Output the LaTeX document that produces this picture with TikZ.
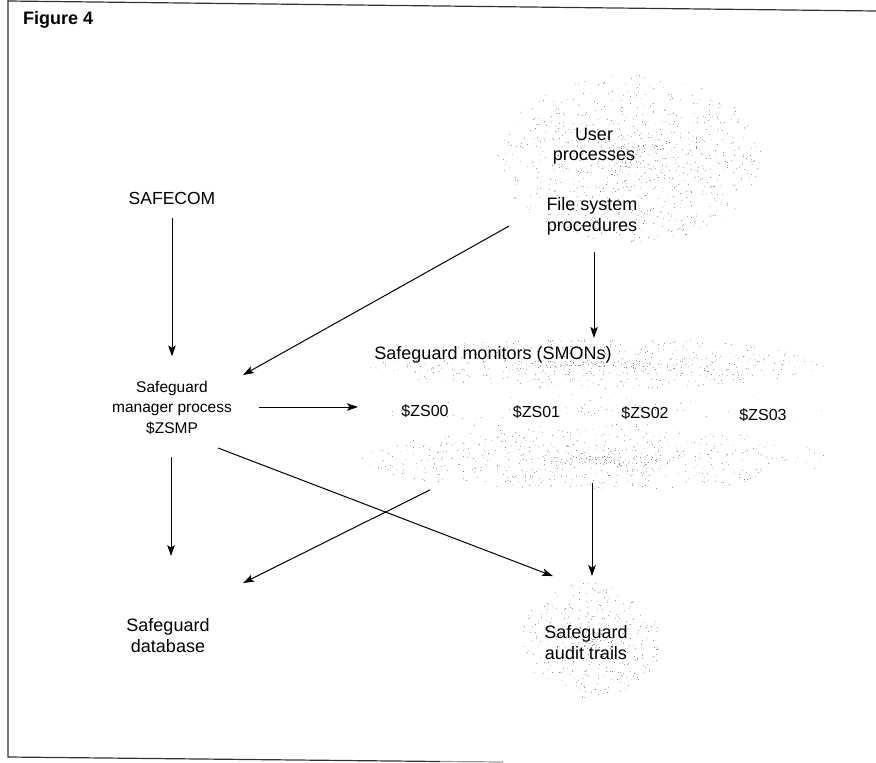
\documentclass[tikz,border=0pt]{standalone}
\usepackage{fontspec}
\setmainfont{Liberation Sans}
\usetikzlibrary{arrows.meta,calc}
\newcommand{\dotcloud}[6]{%
  \foreach \i in {1,...,#5}{%
    \pgfmathsetmacro{\dotr}{rnd^#6}%
    \pgfmathsetmacro{\dota}{360*rnd}%
    \pgfmathsetmacro{\dsh}{int(12+38*rnd)}%
    \fill[black!\dsh] ({#1+#3*\dotr*cos(\dota)},{#2+#4*\dotr*sin(\dota)}) rectangle ++(1,1);
  }}
\begin{document}
\begin{tikzpicture}[x=1pt,y=-1pt,
  lbl/.style={inner sep=0pt, align=center, font=\fontsize{18}{20.5}\selectfont},
  smalllbl/.style={inner sep=0pt, align=center, font=\fontsize{15.5}{20.5}\selectfont},
  zslbl/.style={inner sep=0pt, font=\fontsize{16}{20.5}\selectfont},
  arr/.style={-{Stealth[length=11pt,width=7.5pt,inset=2.5pt]}, line width=1pt},
  frame/.style={line width=1.2pt, black!80}]
\useasboundingbox (0,0) rectangle (876,763);
\pgfmathsetseed{4242}
% stippled clouds
\dotcloud{630}{158}{132}{84}{950}{0.75}
\dotcloud{594}{363}{232}{25}{620}{0.8}
\dotcloud{594}{410}{232}{22}{70}{0.9}
\dotcloud{594}{459}{232}{31}{650}{0.8}
\dotcloud{590}{640}{70}{58}{420}{0.8}
% frame
\draw[frame] (8,0) -- (8,757) -- (440,761.5);
\draw[line width=1.2pt, black!40] (440,761.5) -- (503,762);
\draw[frame] (8,1) -- (876,11);
% labels
\node[anchor=base west, inner sep=0pt, font=\fontsize{18}{20.5}\selectfont\bfseries] (fig) at (23,24) {Figure 4};
\node[lbl, font=\fontsize{17.5}{20.5}\selectfont] (safecom) at (172,199.9) {\strut SAFECOM};
\node[smalllbl] (mgr) at (172,408.4) {\strut Safeguard\\\strut manager process\\\strut \$ZSMP};
\node[lbl] (user) at (594,146.2) {\strut User\\\strut processes};
\node[lbl] (fsp) at (592,217.1) {\strut File system\\\strut procedures};
\node[lbl] (smon) at (493,354.9) {\strut Safeguard monitors (SMONs)};
\node[zslbl] (zs0) at (425,411.9) {\strut \$ZS00};
\node[zslbl] (zs1) at (536.5,412.9) {\strut \$ZS01};
\node[zslbl] (zs2) at (645,413.9) {\strut \$ZS02};
\node[zslbl] (zs3) at (763,415.9) {\strut \$ZS03};
\node[lbl] (db) at (168,638.1) {\strut Safeguard\\\strut database};
\node[lbl] (audit) at (586,645.1) {\strut Safeguard\\\strut audit trails};
% connectors
\draw[arr] ([shift={(0,18)}]safecom.center) -- ([shift={(0,-52)}]mgr.center);
\draw[arr] ([shift={(-83,9)}]fsp.center) -- ([shift={(71,-33.4)}]mgr.center);
\draw[arr] ([shift={(87,-1.4)}]mgr.center) -- ([shift={(-67,-4.9)}]zs0.center);
\draw[arr] ([shift={(-1,48.6)}]mgr.center) -- ([shift={(3,-82)}]db.center);
\draw[arr] ([shift={(46,39.6)}]mgr.center) -- ([shift={(-33,-69)}]audit.center);
\draw[arr] ([shift={(2,35)}]fsp.center) -- ([shift={(101,-17)}]smon.center);
\draw[arr] ([shift={(5,78)}]zs0.center) -- ([shift={(75,-55)}]db.center);
\draw[arr] ([shift={(55.5,70)}]zs1.center) -- ([shift={(6,-69)}]audit.center);
\end{tikzpicture}
\end{document}
